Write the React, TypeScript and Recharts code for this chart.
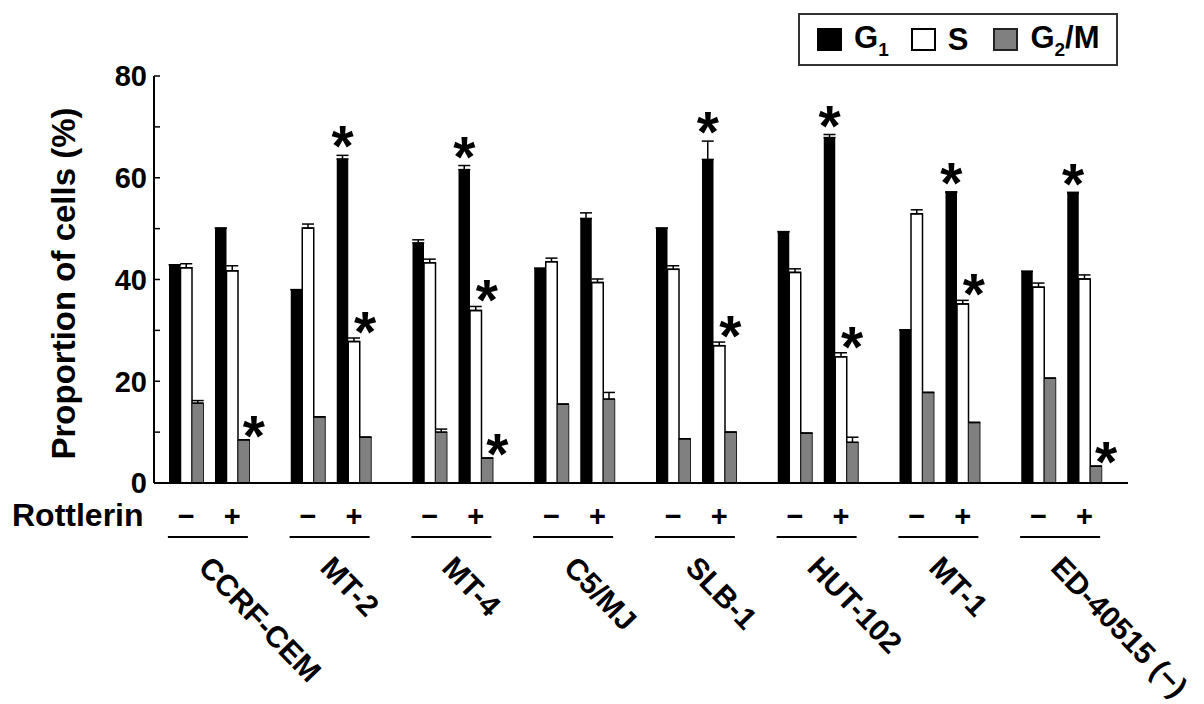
import { Bar, BarChart, ErrorBar, LabelList, XAxis, YAxis } from "recharts"

// cell lines, each measured without (−) and with (+) rottlerin
const CELL_LINES = ["CCRF-CEM", "MT-2", "MT-4", "C5/MJ", "SLB-1", "HUT-102", "MT-1", "ED-40515 (−)"]

const G1_MINUS = [42.9, 38.0, 47.2, 42.2, 50.1, 49.4, 30.1, 41.6]
const S_MINUS = [42.3, 50.1, 43.3, 43.5, 42.0, 41.4, 52.9, 38.5]
const G2M_MINUS = [15.7, 13.0, 10.0, 15.5, 8.7, 9.8, 17.8, 20.6]
const G1_PLUS = [50.1, 63.7, 61.6, 52.0, 63.6, 67.9, 57.2, 57.1]
const S_PLUS = [41.7, 27.8, 33.9, 39.4, 27.0, 24.8, 35.2, 40.1]
const G2M_PLUS = [8.5, 9.0, 4.9, 16.5, 10.0, 8.0, 11.9, 3.3]

// upper error (SD) of each bar
const G1_MINUS_ERR = [0, 0, 0.6, 0, 0, 0, 0, 0]
const S_MINUS_ERR = [0.8, 0.8, 0.7, 0.7, 0.7, 0.7, 0.8, 0.8]
const G2M_MINUS_ERR = [0.5, 0, 0.6, 0, 0, 0, 0, 0]
const G1_PLUS_ERR = [0, 0.7, 0.8, 1.1, 3.6, 0.6, 0, 0]
const S_PLUS_ERR = [1.0, 0.7, 0.8, 0.7, 0.7, 0.8, 0.7, 0.8]
const G2M_PLUS_ERR = [0, 0, 0, 1.3, 0, 1.0, 0, 0]

// significance marks on the rottlerin-treated bars
const G1_STAR = [false, true, true, false, true, true, true, true]
const S_STAR = [false, true, true, false, true, true, true, false]
const G2M_STAR = [true, false, true, false, false, false, false, true]

const Y_TICKS = [0, 10, 20, 30, 40, 50, 60, 70, 80]

const LEGEND = [
  { name: "G", sub: "1", tail: "", fill: "#000", border: "#000" },
  { name: "S", sub: "", tail: "", fill: "#fff", border: "#000" },
  { name: "G", sub: "2", tail: "/M", fill: "#808080", border: "#222" },
]

const FONT = '"Liberation Sans", Arial, Helvetica, sans-serif'
const PLOT_H = 407

const rows = CELL_LINES.map((name, i) => ({
  name,
  g1m: G1_MINUS[i],
  sm: S_MINUS[i],
  gm: G2M_MINUS[i],
  g1p: G1_PLUS[i],
  sp: S_PLUS[i],
  gp: G2M_PLUS[i],
  pad: 0,
  g1mErr: [0, G1_MINUS_ERR[i]],
  smErr: [0, S_MINUS_ERR[i]],
  gmErr: [0, G2M_MINUS_ERR[i]],
  g1pErr: [0, G1_PLUS_ERR[i]],
  spErr: [0, S_PLUS_ERR[i]],
  gpErr: [0, G2M_PLUS_ERR[i]],
  g1Star: G1_STAR[i] ? "*" : "",
  sStar: S_STAR[i] ? "*" : "",
  gStar: G2M_STAR[i] ? "*" : "",
}))

function starLabel(errs: number[], dx: number, lift: number) {
  return (props: any) => {
    if (!props.value) return null
    const vb = props.viewBox ?? props
    const bx = vb.x ?? props.x
    const by = vb.y ?? props.y
    const bw = vb.width ?? props.width
    const err = errs[props.index] ?? 0
    const cy = by - (err * PLOT_H) / 80 - lift
    return (
      <text x={bx + bw / 2 + dx} y={cy + 33} textAnchor="middle" fontSize={57} fontWeight="bold" fontFamily={FONT} fill="#000">
        *
      </text>
    )
  }
}

const YTick = (props: any) => {
  const { x, y, payload } = props
  const v = payload.value
  return (
    <g>
      <line x1={x + 7} x2={x + 13} y1={y} y2={y} stroke="#000" strokeWidth={1.5} />
      {v % 20 === 0 && (
        <text x={x} y={y} dy="0.36em" textAnchor="end" fontSize={29} fontWeight="bold" fontFamily={FONT} fill="#000">
          {v}
        </text>
      )}
    </g>
  )
}

const XTick = (props: any) => {
  const { x, y, payload, index } = props
  const txt = { fontSize: 29, fontWeight: "bold" as const, fontFamily: FONT, fill: "#000" }
  return (
    <g>
      {index === 0 && (
        <text x={12} y={y + 43} {...txt} fontSize={32}>
          Rottlerin
        </text>
      )}
      <text x={x - 28.75} y={y + 43} textAnchor="middle" {...txt}>−</text>
      <text x={x + 17.25} y={y + 43} textAnchor="middle" {...txt}>+</text>
      <line x1={x - 47} x2={x + 33} y1={y + 54} y2={y + 54} stroke="#000" strokeWidth={2} />
      <text transform={`translate(${x - 18},${y + 86}) rotate(46)`} {...txt} fontSize={30}>
        {payload.value}
      </text>
    </g>
  )
}

const yLabel = (p: any) => {
  const vb = p.viewBox
  return (
    <text
      transform={`translate(${vb.x + 63},${vb.y + vb.height / 2 + 4}) rotate(-90)`}
      textAnchor="middle"
      dominantBaseline="central"
      fontSize={33}
      fontWeight="bold"
      fontFamily={FONT}
      fill="#000"
    >
      Proportion of cells (%)
    </text>
  )
}

export default function App() {
  return (
    <div style={{ position: "absolute", left: 0, top: 0, width: 1204, height: 704, background: "#fff" }}>
      <BarChart
        width={1204}
        height={704}
        data={rows}
        margin={{ top: 76, right: 76, bottom: 0, left: 0 }}
        barGap={0}
        barSize={11.5}
      >
        <XAxis
          dataKey="name"
          height={221}
          interval={0}
          tickLine={false}
          tickSize={0}
          tickMargin={0}
          axisLine={{ stroke: "#000", strokeWidth: 2 }}
          tick={<XTick />}
        />
        <YAxis
          width={154}
          domain={[0, 80]}
          ticks={Y_TICKS}
          interval={0}
          tickLine={false}
          tickSize={0}
          tickMargin={7}
          axisLine={{ stroke: "#000", strokeWidth: 2 }}
          tick={<YTick />}
          label={{ content: yLabel }}
        />
        <Bar dataKey="g1m" fill="#000" isAnimationActive={false}>
          <ErrorBar dataKey="g1mErr" width={6} stroke="#000" strokeWidth={1.5} />
        </Bar>
        <Bar dataKey="sm" fill="#fff" stroke="#000" strokeWidth={1.5} isAnimationActive={false}>
          <ErrorBar dataKey="smErr" width={6} stroke="#000" strokeWidth={1.5} />
        </Bar>
        <Bar dataKey="gm" fill="#808080" stroke="#222" strokeWidth={1} isAnimationActive={false}>
          <ErrorBar dataKey="gmErr" width={6} stroke="#000" strokeWidth={1.5} />
        </Bar>
        <Bar dataKey="pad" fill="none" isAnimationActive={false} />
        <Bar dataKey="g1p" fill="#000" isAnimationActive={false}>
          <ErrorBar dataKey="g1pErr" width={6} stroke="#000" strokeWidth={1.5} />
          <LabelList dataKey="g1Star" content={starLabel(G1_PLUS_ERR, 0, 22)} />
        </Bar>
        <Bar dataKey="sp" fill="#fff" stroke="#000" strokeWidth={1.5} isAnimationActive={false}>
          <ErrorBar dataKey="spErr" width={6} stroke="#000" strokeWidth={1.5} />
          <LabelList dataKey="sStar" content={starLabel(S_PLUS_ERR, 11, 19)} />
        </Bar>
        <Bar dataKey="gp" fill="#808080" stroke="#222" strokeWidth={1} isAnimationActive={false}>
          <ErrorBar dataKey="gpErr" width={6} stroke="#000" strokeWidth={1.5} />
          <LabelList dataKey="gStar" content={starLabel(G2M_PLUS_ERR, 10, 17)} />
        </Bar>
        <Bar dataKey="pad" fill="none" isAnimationActive={false} />
      </BarChart>
      <div
        style={{
          position: "absolute",
          left: 798,
          top: 13,
          width: 320,
          height: 53,
          boxSizing: "border-box",
          border: "2px solid #333",
          background: "#fff",
          display: "flex",
          alignItems: "center",
          paddingLeft: 17,
          fontFamily: FONT,
          fontWeight: "bold",
          fontSize: 31,
          color: "#000",
        }}
      >
        {LEGEND.map((item, i) => (
          <div key={i} style={{ display: "flex", alignItems: "center", marginRight: i === 0 ? 22 : 25 }}>
            <span
              style={{
                display: "inline-block",
                width: 21,
                height: 19,
                background: item.fill,
                border: `2px solid ${item.border}`,
              }}
            />
            <span style={{ marginLeft: 12, lineHeight: "30px" }}>
              {item.name}
              {item.sub && <span style={{ fontSize: 19, position: "relative", top: 8 }}>{item.sub}</span>}
              {item.tail}
            </span>
          </div>
        ))}
      </div>
    </div>
  )
}
